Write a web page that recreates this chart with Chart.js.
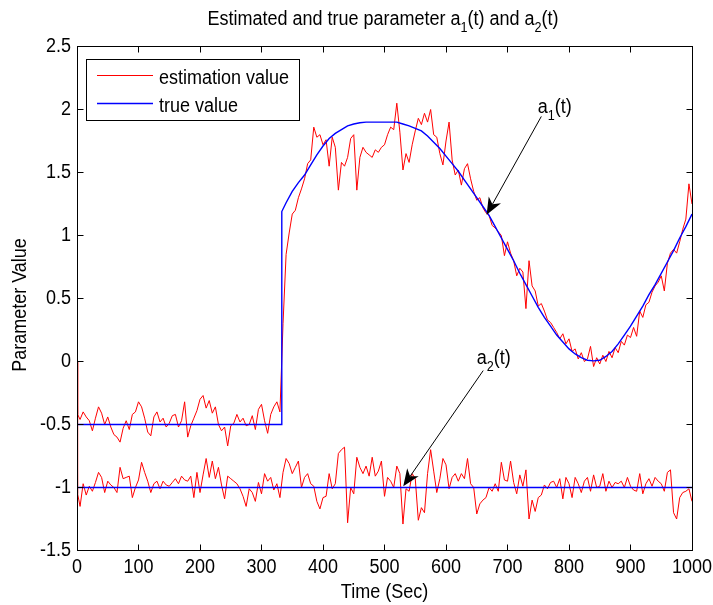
<!DOCTYPE html>
<html>
<head>
<meta charset="utf-8">
<script src="https://cdn.jsdelivr.net/npm/chart.js@4.4.1/dist/chart.umd.min.js"></script>
<style>
  html, body { margin: 0; padding: 0; background: #fff; }
  #wrap { width: 713px; height: 605px; }
</style>
</head>
<body>
<div id="wrap"><canvas id="grafico" width="713" height="605"></canvas></div>
<script>
// ticks
const xTicks = [0, 100, 200, 300, 400, 500, 600, 700, 800, 900, 1000];
const yTicks = [-1.5, -1, -0.5, 0, 0.5, 1, 1.5, 2, 2.5];

// estimation sample times: t=0, t=1, then every 5 sec
const estT = [0, 1];
for (let t = 5; t <= 1000; t += 5) estT.push(t);

// estimated a1(t), one row = 50 sec
const a1Est = [0, -0.42,
  -0.46, -0.40, -0.44, -0.47, -0.55, -0.45, -0.36, -0.41, -0.50, -0.44,
  -0.52, -0.58, -0.60, -0.64, -0.53, -0.47, -0.54, -0.42, -0.40, -0.32,
  -0.36, -0.45, -0.56, -0.59, -0.44, -0.40, -0.48, -0.45, -0.52, -0.49,
  -0.43, -0.42, -0.52, -0.47, -0.32, -0.60, -0.51, -0.45, -0.39, -0.30,
  -0.27, -0.37, -0.31, -0.41, -0.36, -0.50, -0.55, -0.52, -0.67, -0.51,
  -0.49, -0.42, -0.48, -0.45, -0.51, -0.50, -0.43, -0.54, -0.38, -0.34,
  -0.47, -0.57, -0.42, -0.36, -0.32, -0.40, 0.30, 0.85, 1.02, 1.17,
  1.20, 1.30, 1.37, 1.45, 1.57, 1.60, 1.86, 1.78, 1.80, 1.72,
  1.76, 1.55, 1.78, 1.70, 1.36, 1.58, 1.55, 1.62, 1.77, 1.80,
  1.36, 1.62, 1.70, 1.66, 1.64, 1.62, 1.68, 1.66, 1.70, 1.72,
  1.80, 1.86, 1.84, 2.05, 1.82, 1.52, 1.65, 1.58, 1.72, 1.83,
  1.93, 1.88, 1.97, 1.90, 2.00, 1.80, 1.78, 1.65, 1.56, 1.75,
  1.90, 1.60, 1.48, 1.52, 1.40, 1.53, 1.57, 1.45, 1.35, 1.28,
  1.30, 1.22, 1.18, 1.16, 1.08, 1.06, 1.03, 1.00, 0.84, 0.95,
  0.86, 0.80, 0.68, 0.74, 0.71, 0.42, 0.80, 0.60, 0.56, 0.44,
  0.46, 0.40, 0.33, 0.31, 0.27, 0.23, 0.18, 0.22, 0.14, 0.18,
  0.08, 0.10, 0.02, 0.07, 0.00, 0.02, 0.12, -0.04, 0.03, -0.02,
  0.05, 0.00, 0.08, 0.03, 0.11, 0.07, 0.16, 0.13, 0.21, 0.19,
  0.27, 0.20, 0.40, 0.35, 0.45, 0.47, 0.55, 0.60, 0.63, 0.68,
  0.56, 0.78, 0.86, 0.89, 0.86, 0.95, 1.05, 1.13, 1.41, 1.25
];

// estimated a2(t)
const a2Est = [0, -1.05,
  -1.15, -0.97, -1.06, -0.99, -1.03, -0.96, -0.88, -0.92, -1.04, -0.95,
  -0.98, -1.00, -1.04, -0.84, -0.93, -0.92, -0.91, -1.08, -1.00, -0.94,
  -0.80, -0.88, -0.95, -1.04, -0.97, -0.95, -1.01, -0.95, -0.98, -0.99,
  -0.96, -0.93, -0.97, -0.91, -0.94, -0.95, -0.91, -1.08, -0.88, -1.04,
  -0.90, -0.77, -0.92, -0.79, -0.93, -0.84, -0.98, -1.09, -0.91, -0.93,
  -0.95, -0.97, -1.01, -1.07, -1.15, -1.01, -1.04, -1.11, -0.96, -1.05,
  -0.89, -0.95, -0.92, -1.02, -0.97, -1.08, -0.88, -0.77, -0.81, -0.89,
  -0.84, -0.79, -1.00, -0.92, -0.89, -0.97, -0.99, -1.11, -1.17, -1.08,
  -1.07, -0.89, -1.01, -0.97, -0.73, -0.70, -0.68, -1.28, -1.00, -1.05,
  -0.76, -0.84, -0.89, -0.83, -0.91, -0.76, -0.91, -0.87, -0.79, -1.07,
  -0.92, -0.95, -1.00, -0.83, -0.89, -1.29, -1.01, -1.03, -0.89, -0.93,
  -1.26, -1.16, -1.20, -0.89, -0.70, -0.87, -1.04, -0.93, -0.77, -0.82,
  -1.01, -0.92, -0.89, -0.95, -0.89, -0.93, -0.77, -0.97, -1.00, -1.21,
  -1.13, -1.10, -1.08, -1.00, -1.03, -0.97, -1.03, -0.80, -0.94, -0.95,
  -0.79, -0.96, -1.05, -0.90, -0.99, -0.86, -1.25, -1.10, -1.19, -1.08,
  -1.06, -0.98, -1.01, -0.96, -0.95, -1.00, -0.93, -1.09, -0.92, -0.97,
  -1.08, -0.92, -0.97, -1.04, -0.95, -0.92, -1.03, -0.90, -1.00, -0.99,
  -0.89, -1.03, -0.95, -1.00, -0.96, -0.97, -0.95, -1.00, -0.92, -0.99,
  -1.02, -1.03, -0.89, -1.05, -0.97, -0.93, -0.99, -0.92, -0.95, -0.97,
  -1.03, -0.88, -0.86, -1.20, -1.25, -1.08, -1.04, -1.03, -1.01, -1.11
];

// true a1(t): jump at 332 sec, then every 10 sec
const trueT1 = [0, 332, 333];
for (let t = 340; t <= 1000; t += 10) trueT1.push(t);
const a1True = [-0.5, -0.5, 1.19,
  1.26, 1.35, 1.42, 1.48, 1.56, 1.64, 1.71, 1.77, 1.81, 1.84,
  1.87, 1.885, 1.895, 1.90, 1.90, 1.90, 1.90, 1.90, 1.90, 1.885,
  1.87, 1.85, 1.83, 1.79, 1.74, 1.69, 1.63, 1.57, 1.51, 1.44,
  1.37, 1.30, 1.23, 1.16, 1.07, 0.98, 0.89, 0.80, 0.70, 0.61,
  0.52, 0.43, 0.35, 0.28, 0.21, 0.155, 0.10, 0.06, 0.03, 0.01,
  0.005, 0.01, 0.04, 0.08, 0.14, 0.21, 0.28, 0.36, 0.44, 0.53,
  0.61, 0.70, 0.79, 0.88, 0.98, 1.07, 1.17
];

// true a2(t)
const trueT2 = [0, 1000];
const a2True = [-1, -1];

const FUENTE = '"Liberation Sans", Arial, Helvetica, sans-serif';
const SX = 0.9; // text is a bit narrow in the picture

const pares = (ts, vs) => ts.map((t, i) => ({ x: t, y: vs[i] }));

function texto(ctx, s, x, y, size, align) {
  ctx.save();
  ctx.font = size + 'px ' + FUENTE;
  ctx.translate(x, y);
  ctx.scale(SX, 1);
  ctx.textAlign = align || 'left';
  ctx.fillText(s, 0, 0);
  ctx.restore();
}

// text with subscripts: parts = [['a'], ['1', true], ['(t)']]
function textoRico(ctx, parts, x, y, align) {
  let w = 0;
  parts.forEach(p => {
    ctx.font = (p[1] ? 14 : 20) + 'px ' + FUENTE;
    w += ctx.measureText(p[0]).width * SX;
  });
  let cx = align === 'center' ? x - w / 2 : x;
  parts.forEach(p => {
    const size = p[1] ? 14 : 20;
    texto(ctx, p[0], cx, y + (p[1] ? 7 : 0), size, 'left');
    ctx.font = size + 'px ' + FUENTE;
    cx += ctx.measureText(p[0]).width * SX;
  });
}

function flecha(ctx, x1, y1, x2, y2) {
  const dx = x2 - x1, dy = y2 - y1;
  const L = Math.hypot(dx, dy);
  const ux = dx / L, uy = dy / L;
  const px = -uy, py = ux;
  const len = 17, half = 7, notch = 5;
  ctx.save();
  ctx.strokeStyle = '#000';
  ctx.lineWidth = 1;
  ctx.beginPath();
  ctx.moveTo(x1, y1);
  ctx.lineTo(x2 - ux * (len - notch), y2 - uy * (len - notch));
  ctx.stroke();
  ctx.fillStyle = '#000';
  ctx.beginPath();
  ctx.moveTo(x2, y2);
  ctx.lineTo(x2 - ux * len + px * half, y2 - uy * len + py * half);
  ctx.lineTo(x2 - ux * (len - notch), y2 - uy * (len - notch));
  ctx.lineTo(x2 - ux * len - px * half, y2 - uy * len - py * half);
  ctx.closePath();
  ctx.fill();
  ctx.restore();
}

const estiloMatlab = {
  id: 'estiloMatlab',
  beforeDraw(chart) {
    const ctx = chart.ctx;
    ctx.save();
    ctx.fillStyle = '#fff';
    ctx.fillRect(0, 0, chart.width, chart.height);
    ctx.restore();
  },
  afterDraw(chart) {
    const ctx = chart.ctx;
    const a = chart.chartArea;
    const xs = chart.scales.x, ys = chart.scales.y;
    const media = v => Math.floor(v) + 0.5;
    const L = media(a.left), R = media(a.right);
    const T = media(a.top), B = media(a.bottom);

    ctx.save();
    ctx.strokeStyle = '#000';
    ctx.lineWidth = 1;
    ctx.strokeRect(L, T, R - L, B - T);

    // inward ticks on all four sides
    ctx.beginPath();
    xTicks.forEach(v => {
      const px = media(xs.getPixelForValue(v));
      ctx.moveTo(px, B); ctx.lineTo(px, B - 6);
      ctx.moveTo(px, T); ctx.lineTo(px, T + 6);
    });
    yTicks.forEach(v => {
      const py = media(ys.getPixelForValue(v));
      ctx.moveTo(L, py); ctx.lineTo(L + 6, py);
      ctx.moveTo(R, py); ctx.lineTo(R - 6, py);
    });
    ctx.stroke();

    ctx.fillStyle = '#000';
    ctx.textBaseline = 'alphabetic';
    xTicks.forEach(v => texto(ctx, String(v), xs.getPixelForValue(v), 573, 20, 'center'));
    ctx.textBaseline = 'middle';
    yTicks.forEach(v => texto(ctx, String(v), 71, ys.getPixelForValue(v), 20, 'right'));
    ctx.textBaseline = 'alphabetic';

    // axis labels
    texto(ctx, 'Time (Sec)', (a.left + a.right) / 2, 598, 20, 'center');
    ctx.save();
    ctx.translate(26, 305);
    ctx.rotate(-Math.PI / 2);
    texto(ctx, 'Parameter Value', 0, 0, 20, 'center');
    ctx.restore();

    // title
    textoRico(ctx, [['Estimated and true parameter a'], ['1', true], ['(t) and a'], ['2', true], ['(t)']],
      383, 25, 'center');

    // legend
    ctx.fillStyle = '#fff';
    ctx.fillRect(86.5, 59.5, 213, 61);
    ctx.strokeRect(86.5, 59.5, 213, 61);
    ctx.lineWidth = 1;
    ctx.strokeStyle = '#ff0000';
    ctx.beginPath(); ctx.moveTo(97, 75.5); ctx.lineTo(153, 75.5); ctx.stroke();
    ctx.lineWidth = 1.4;
    ctx.strokeStyle = '#0000ff';
    ctx.beginPath(); ctx.moveTo(97, 103.5); ctx.lineTo(153, 103.5); ctx.stroke();
    ctx.lineWidth = 1;
    ctx.fillStyle = '#000';
    texto(ctx, 'estimation value', 159, 84, 20, 'left');
    texto(ctx, 'true value', 159, 112, 20, 'left');

    // annotations
    const P = (t, v) => [xs.getPixelForValue(t), ys.getPixelForValue(v)];
    let p1 = P(755, 1.945), p2 = P(666, 1.165);
    flecha(ctx, p1[0], p1[1], p2[0], p2[1]);
    let q = P(749, 1.975);
    textoRico(ctx, [['a'], ['1', true], ['(t)']], q[0], q[1], 'left');

    p1 = P(660.5, -0.072); p2 = P(530.5, -0.99);
    flecha(ctx, p1[0], p1[1], p2[0], p2[1]);
    q = P(650, -0.018);
    textoRico(ctx, [['a'], ['2', true], ['(t)']], q[0], q[1], 'left');
    ctx.restore();
  }
};

const ctx = document.getElementById('grafico');
new Chart(ctx, {
  type: 'line',
  data: {
    datasets: [
      { label: 'estimation value', data: pares(estT, a1Est), borderColor: '#ff0000', borderWidth: 1, order: 2 },
      { label: 'estimation a2', data: pares(estT, a2Est), borderColor: '#ff0000', borderWidth: 1, order: 2 },
      { label: 'true value', data: pares(trueT1, a1True), borderColor: '#0000ff', borderWidth: 1.4, order: 1 },
      { label: 'true a2', data: pares(trueT2, a2True), borderColor: '#0000ff', borderWidth: 1.4, order: 1 }
    ]
  },
  options: {
    responsive: false,
    animation: false,
    devicePixelRatio: 1,
    // chart area 77..692 x 46.5..550.5 so that 0.5 steps land on half pixels
    layout: { padding: { top: 46.5, right: 21, left: 0, bottom: 0 } },
    elements: {
      line: { tension: 0, fill: false },
      point: { radius: 0, hoverRadius: 0 }
    },
    plugins: { legend: { display: false }, title: { display: false }, tooltip: { enabled: false } },
    events: [],
    scales: {
      x: {
        type: 'linear', min: 0, max: 1000,
        ticks: { display: false }, grid: { display: false }, border: { display: false },
        afterFit: s => { s.height = 54.5; }
      },
      y: {
        type: 'linear', min: -1.5, max: 2.5,
        ticks: { display: false }, grid: { display: false }, border: { display: false },
        afterFit: s => { s.width = 77; }
      }
    }
  },
  plugins: [estiloMatlab]
});
</script>
</body>
</html>
